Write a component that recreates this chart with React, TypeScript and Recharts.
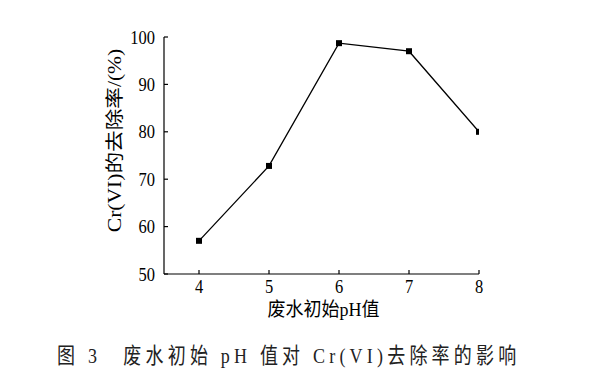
import React from 'react';
import { LineChart, Line, XAxis, YAxis, Label } from 'recharts';

const phValues = [4, 5, 6, 7, 8];
const removalRates = [57.0, 72.8, 98.7, 97.0, 80.0];
const yTicks = [50, 60, 70, 80, 90, 100];
const xTicks = [4, 5, 6, 7, 8];
const xAxisTitle = '废水初始pH值';
const yAxisTitle = 'Cr(VI)的去除率/(%)';
const captionParts = ['图 3', '废水初始 pH 值对 Cr(VI)去除率的影响'];

const data = phValues.map((ph, i) => ({ ph, rate: removalRates[i] }));

const FONT = "'Liberation Serif', 'Times New Roman', 'Noto Sans CJK SC', serif";
const STRETCH = 1.2;

const SquareDot = (props: any) => {
  const { cx, cy } = props;
  if (cx == null || cy == null) return null;
  return <rect x={cx - 3} y={cy - 3} width={6} height={6} fill="#000" />;
};

const YTick = (props: any) => {
  const { x, y, payload } = props;
  return (
    <g transform={`translate(${x},${y}) scale(1,${STRETCH})`}>
      <text x={0} y={0} textAnchor="end" dominantBaseline="central" fontSize={16.5} fontFamily={FONT} fill="#000">
        {payload.value}
      </text>
    </g>
  );
};

const XTick = (props: any) => {
  const { x, y, payload } = props;
  return (
    <g transform={`translate(${x},${y}) scale(1,1.1)`}>
      <text x={0} y={0} textAnchor="middle" dominantBaseline="central" fontSize={16.5} fontFamily={FONT} fill="#000">
        {payload.value}
      </text>
    </g>
  );
};

const YTitle = (props: any) => {
  const vb = props.viewBox || {};
  const x = vb.x + 11;
  const y = vb.y + vb.height / 2 - 15;
  return (
    <g transform={`translate(${x},${y}) rotate(-90) scale(${STRETCH},1)`}>
      <text x={0} y={0} textAnchor="middle" dominantBaseline="central" fontSize={18} fontFamily={FONT} fill="#000">
        {yAxisTitle}
      </text>
    </g>
  );
};

const XTitle = (props: any) => {
  const vb = props.viewBox || {};
  const x = vb.x + vb.width / 2 + 2;
  const y = vb.y + 35;
  return (
    <g transform={`translate(${x},${y}) scale(1,1.1)`}>
      <text x={0} y={0} textAnchor="middle" dominantBaseline="central" fontSize={18} fontFamily={FONT} fill="#000">
        {xAxisTitle}
      </text>
    </g>
  );
};

export default function App() {
  return (
    <div style={{ position: 'absolute', left: 0, top: 0, width: 594, height: 389, background: '#fff' }}>
      <LineChart width={594} height={330} data={data} margin={{ top: 37, right: 115, left: 104, bottom: 0 }}>
        <XAxis
          dataKey="ph"
          type="number"
          domain={[3.5, 8]}
          ticks={xTicks}
          tickSize={-4}
          tickMargin={17}
          axisLine={{ stroke: '#000', strokeWidth: 1.2 }}
          tickLine={{ stroke: '#000', strokeWidth: 1.2 }}
          tick={<XTick />}
          height={56}
          allowDataOverflow
        >
          <Label content={<XTitle />} />
        </XAxis>
        <YAxis
          type="number"
          domain={[50, 100]}
          ticks={yTicks}
          tickSize={-4}
          tickMargin={13}
          axisLine={{ stroke: '#000', strokeWidth: 1.2 }}
          tickLine={{ stroke: '#000', strokeWidth: 1.2 }}
          tick={<YTick />}
          width={60}
        >
          <Label content={<YTitle />} />
        </YAxis>
        <Line
          type="linear"
          dataKey="rate"
          stroke="#000"
          strokeWidth={1.3}
          dot={<SquareDot />}
          activeDot={false}
          isAnimationActive={false}
        />
      </LineChart>
      <div
        style={{
          position: 'absolute',
          left: 57,
          top: 345,
          height: 22,
          lineHeight: '22px',
          fontFamily: FONT,
          fontSize: 18,
          letterSpacing: 4.2,
          color: '#222',
          whiteSpace: 'pre',
          transform: `scale(1, ${STRETCH})`,
          transformOrigin: 'center',
        }}
      >
        {captionParts[0]}
        {'\u2003'}
        {captionParts[1]}
      </div>
    </div>
  );
}
